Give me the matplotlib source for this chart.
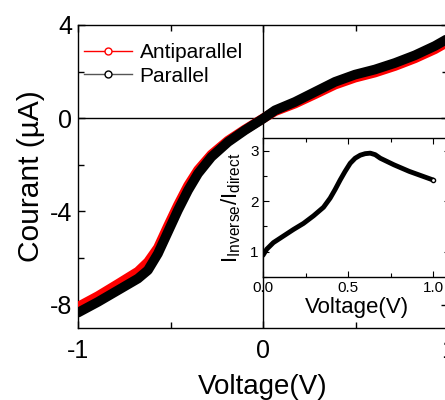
import matplotlib
matplotlib.use('Agg')
import matplotlib.pyplot as plt
from matplotlib.lines import Line2D
from matplotlib.ticker import MultipleLocator

plt.rcParams['font.family'] = ['Liberation Sans', 'DejaVu Sans']
plt.rcParams['axes.unicode_minus'] = False
plt.rcParams['mathtext.fontset'] = 'custom'
plt.rcParams['mathtext.rm'] = 'Liberation Sans'
plt.rcParams['mathtext.it'] = 'Liberation Sans'

# ---- data ----
voltage = [-1.000, -0.892, -0.784, -0.676, -0.622, -0.568, -0.514, -0.460, -0.405,
           -0.351, -0.279, -0.189, -0.099, 0.000, 0.065, 0.173, 0.281, 0.389, 0.497,
           0.605, 0.713, 0.821, 0.929, 1.000]
current_parallel = [-8.34, -7.88, -7.38, -6.88, -6.52, -5.81, -4.88, -3.95, -3.09,
                    -2.37, -1.66, -1.02, -0.52, -0.02, 0.34, 0.70, 1.13, 1.56, 1.87,
                    2.09, 2.37, 2.70, 3.10, 3.42]
current_antiparallel = [-8.09, -7.63, -7.11, -6.58, -6.17, -5.56, -4.63, -3.73, -2.89,
                        -2.22, -1.56, -0.96, -0.49, -0.01, 0.30, 0.63, 1.03, 1.44, 1.74,
                        1.96, 2.24, 2.57, 2.96, 3.28]

inset_voltage = [0.000, 0.022, 0.061, 0.120, 0.179, 0.238, 0.297, 0.356, 0.395, 0.424,
                 0.454, 0.483, 0.513, 0.542, 0.572, 0.601, 0.631, 0.660, 0.690, 0.770,
                 0.860, 1.000]
inset_ratio = [0.93, 1.05, 1.18, 1.31, 1.44, 1.56, 1.71, 1.88, 2.06, 2.23,
               2.42, 2.59, 2.75, 2.85, 2.91, 2.94, 2.95, 2.92, 2.85, 2.72,
               2.59, 2.42]

series_labels = ['Antiparallel', 'Parallel']
main_xticks = [-1, 0, 1]
main_yticks = [-8, -4, 0, 4]
inset_xticks = [0.0, 0.5, 1.0]
inset_yticks = [1, 2, 3]

W, H = 445, 400
fig = plt.figure(figsize=(W / 100, H / 100), dpi=100)
ax = fig.add_axes([78 / W, 1 - 328 / H, 370 / W, 303 / H])

ax.plot(voltage, current_antiparallel, color='red', lw=7, solid_capstyle='round',
        solid_joinstyle='round', zorder=3)
ax.plot(voltage, current_parallel, color='black', lw=7, solid_capstyle='round',
        solid_joinstyle='round', zorder=4)
ax.axhline(0, color='black', lw=1, zorder=2)
ax.axvline(0, color='black', lw=1, zorder=2)

ax.set_xlim(-1, 1)
ax.set_ylim(-9, 4)
ax.set_xticks(main_xticks)
ax.set_xticklabels([str(t) for t in main_xticks])
ax.set_yticks(main_yticks)
ax.set_yticklabels([str(t) for t in main_yticks])
ax.xaxis.set_minor_locator(MultipleLocator(0.5))
ax.yaxis.set_minor_locator(MultipleLocator(2))
ax.tick_params(which='both', direction='in', top=True, right=True, labelsize=18, width=1)
ax.tick_params(which='major', length=5)
ax.tick_params(which='minor', length=4)
ax.tick_params(axis='x', pad=8)
ax.tick_params(axis='y', pad=4)
for s in ax.spines.values():
    s.set_linewidth(1)
ax.set_xlabel('Voltage(V)', fontsize=20, labelpad=8)
ax.set_ylabel('Courant (µA)', fontsize=21.5, labelpad=4)

handles = [
    Line2D([], [], color='red', lw=1, marker='o', ms=5, mfc='white', mec='red'),
    Line2D([], [], color='#555555', lw=1, marker='o', ms=5, mfc='white', mec='black'),
]
ax.legend(handles, series_labels, loc='upper left', bbox_to_anchor=(0.0, 0.96),
          frameon=False, fontsize=15, handlelength=2.3, handletextpad=0.35,
          labelspacing=0.2, borderaxespad=0.1, borderpad=0.2)

# ---- inset ----
ins = fig.add_axes([263 / W, 1 - 277 / H, 187 / W, 139 / H])
ins.plot(inset_voltage, inset_ratio, color='black', lw=3.5, solid_capstyle='round',
         solid_joinstyle='round')
ins.plot([inset_voltage[-1]], [inset_ratio[-1]], 'o', ms=3, mfc='white', mec='black', mew=1)
ins.set_xlim(0, 1.1)
ins.set_ylim(0.5, 3.25)
ins.set_xticks(inset_xticks)
ins.set_xticklabels(['%.1f' % t for t in inset_xticks])
ins.set_yticks(inset_yticks)
ins.xaxis.set_minor_locator(MultipleLocator(0.25))
ins.yaxis.set_minor_locator(MultipleLocator(0.5))
ins.tick_params(which='both', direction='in', top=True, right=True, labelsize=11, width=0.8)
ins.tick_params(which='major', length=4)
ins.tick_params(which='minor', length=3)
ins.tick_params(axis='x', pad=3)
ins.tick_params(axis='y', pad=3)
for s in ins.spines.values():
    s.set_linewidth(1)
ins.set_xlabel('Voltage(V)', fontsize=16, labelpad=1)
ins.set_ylabel(r'$\mathregular{I_{Inverse}/I_{direct}}$', fontsize=16, labelpad=5)

fig.savefig('out.png', dpi=100)
